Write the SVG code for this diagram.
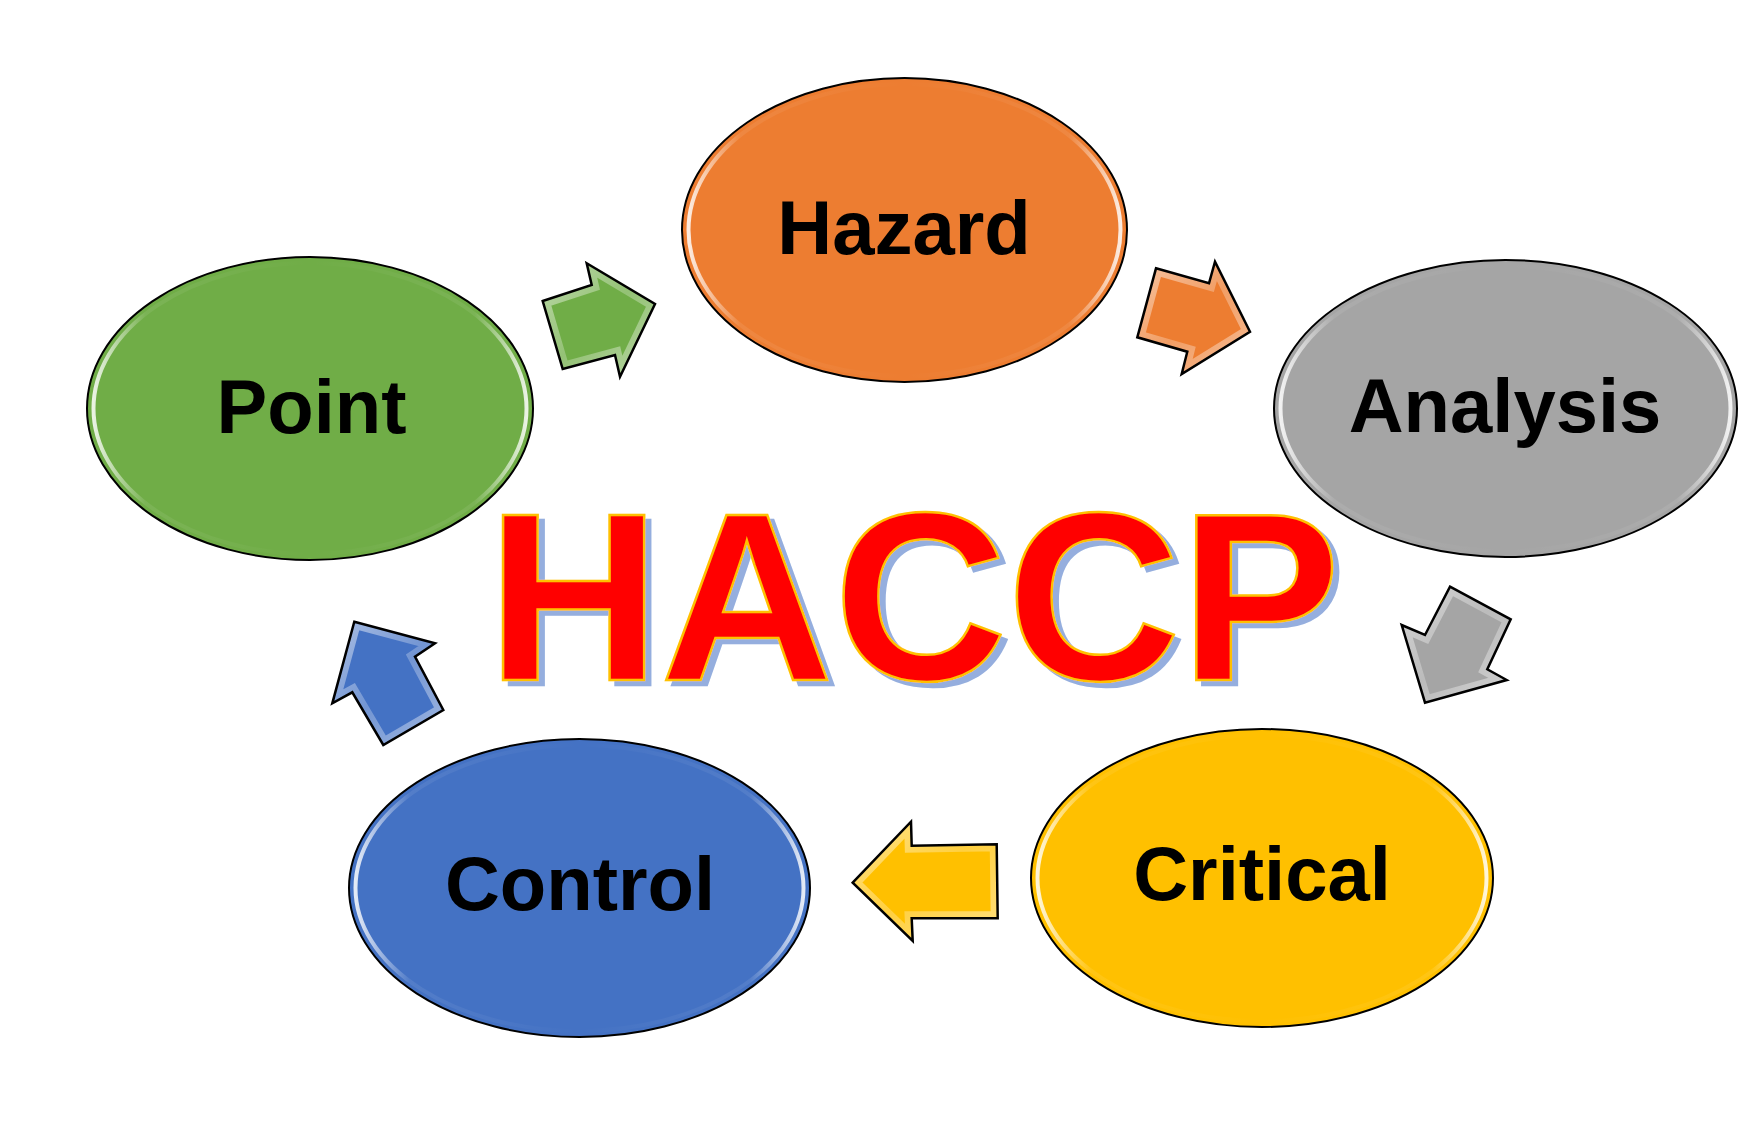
<svg xmlns="http://www.w3.org/2000/svg" width="1759" height="1140" viewBox="0 0 1759 1140">
<defs>
<style>
.node{stroke:#000;stroke-width:2}
.gl{fill:none;stroke:url(#gloss);stroke-width:4}
.lbl{font-family:"Liberation Sans",Arial,sans-serif;font-weight:bold;font-size:76px;fill:#000;text-anchor:middle}
.arr{stroke:#000;stroke-width:2.5;stroke-linejoin:miter}
.band{fill:none;stroke:url(#agloss);stroke-width:14}
.big{font-family:"Liberation Sans",Arial,sans-serif;font-weight:bold;font-size:240px}
</style>
<linearGradient id="gloss" x1="0" y1="0" x2="1" y2="0">
<stop offset="0" stop-color="#fff" stop-opacity="0.85"/>
<stop offset="0.12" stop-color="#fff" stop-opacity="0.08"/>
<stop offset="0.5" stop-color="#fff" stop-opacity="0"/>
<stop offset="0.88" stop-color="#fff" stop-opacity="0.08"/>
<stop offset="1" stop-color="#fff" stop-opacity="0.85"/>
</linearGradient>
<linearGradient id="agloss" x1="0" y1="0" x2="1" y2="1">
<stop offset="0" stop-color="#fff" stop-opacity="0.55"/>
<stop offset="0.5" stop-color="#fff" stop-opacity="0.25"/>
<stop offset="1" stop-color="#fff" stop-opacity="0.5"/>
</linearGradient>
<filter id="shadow" x="-5%" y="-5%" width="115%" height="120%">
<feOffset in="SourceAlpha" dx="6" dy="5" result="off"/>
<feFlood flood-color="#8FAADC" flood-opacity="0.95"/>
<feComposite in2="off" operator="in" result="sh"/>
<feMerge><feMergeNode in="sh"/><feMergeNode in="SourceGraphic"/></feMerge>
</filter>
<clipPath id="cG"><polygon id="pG" points="542.7,301 591.7,285 586.7,263.3 655,304 620,376.7 615,355 562.7,369"/></clipPath>
<clipPath id="cO"><polygon id="pO" points="1156,268.3 1209,283.3 1215,261.7 1250,331.7 1181.7,374 1187.3,351.7 1137.3,337.3"/></clipPath>
<clipPath id="cA"><polygon id="pA" points="1450,586.7 1510.7,619.3 1487.3,669.3 1506.7,680 1425,702.7 1401.7,625 1425,635"/></clipPath>
<clipPath id="cY"><polygon id="pY" points="852.7,882.7 911,821.7 911.7,845.7 996.7,844.3 997.7,918.3 911.7,918.3 912.7,941"/></clipPath>
<clipPath id="cB"><polygon id="pB" points="354.3,621.7 435,643.3 415,656.7 443.3,710 383.3,745 352.3,692.3 332.3,703.3"/></clipPath>
</defs>
<rect width="1759" height="1140" fill="#fff"/>

<g id="connectors">
<g id="arrow-point-hazard">
<use href="#pG" fill="#70AD47"/>
<use href="#pG" class="band" clip-path="url(#cG)"/>
<use href="#pG" class="arr" fill="none"/>
</g>
<g id="arrow-hazard-analysis">
<use href="#pO" fill="#ED7D31"/>
<use href="#pO" class="band" clip-path="url(#cO)"/>
<use href="#pO" class="arr" fill="none"/>
</g>
<g id="arrow-analysis-critical">
<use href="#pA" fill="#A5A5A5"/>
<use href="#pA" class="band" clip-path="url(#cA)"/>
<use href="#pA" class="arr" fill="none"/>
</g>
<g id="arrow-critical-control">
<use href="#pY" fill="#FFC000"/>
<use href="#pY" class="band" clip-path="url(#cY)"/>
<use href="#pY" class="arr" fill="none"/>
</g>
<g id="arrow-control-point">
<use href="#pB" fill="#4472C4"/>
<use href="#pB" class="band" clip-path="url(#cB)"/>
<use href="#pB" class="arr" fill="none"/>
</g>
</g>

<g id="node-hazard">
<ellipse class="node" cx="904.5" cy="230" rx="222.5" ry="152" fill="#ED7D31"/>
<ellipse class="gl" cx="904.5" cy="230" rx="216" ry="146"/>
<text class="lbl" x="904" y="254" font-size="75">Hazard</text>
</g>
<g id="node-analysis">
<ellipse class="node" cx="1505.5" cy="408.5" rx="231.5" ry="148.5" fill="#A5A5A5"/>
<ellipse class="gl" cx="1505.5" cy="408.5" rx="225" ry="142.5"/>
<text class="lbl" x="1505" y="432">Analysis</text>
</g>
<g id="node-critical">
<ellipse class="node" cx="1262" cy="878" rx="231" ry="149" fill="#FFC000"/>
<ellipse class="gl" cx="1262" cy="878" rx="224.5" ry="143"/>
<text class="lbl" x="1262" y="900">Critical</text>
</g>
<g id="node-control">
<ellipse class="node" cx="579.5" cy="888" rx="230.5" ry="149" fill="#4472C4"/>
<ellipse class="gl" cx="579.5" cy="888" rx="224" ry="143"/>
<text class="lbl" x="580" y="910">Control</text>
</g>
<g id="node-point">
<ellipse class="node" cx="310" cy="408.5" rx="223" ry="151.5" fill="#70AD47"/>
<ellipse class="gl" cx="310" cy="408.5" rx="216.5" ry="145.5"/>
<text class="lbl" x="311.5" y="433">Point</text>
</g>

<g id="title">
<text class="big" x="487" y="680" fill="#FF0000" stroke="#FFC000" stroke-width="2.5" filter="url(#shadow)">HACCP</text>
</g>
</svg>
